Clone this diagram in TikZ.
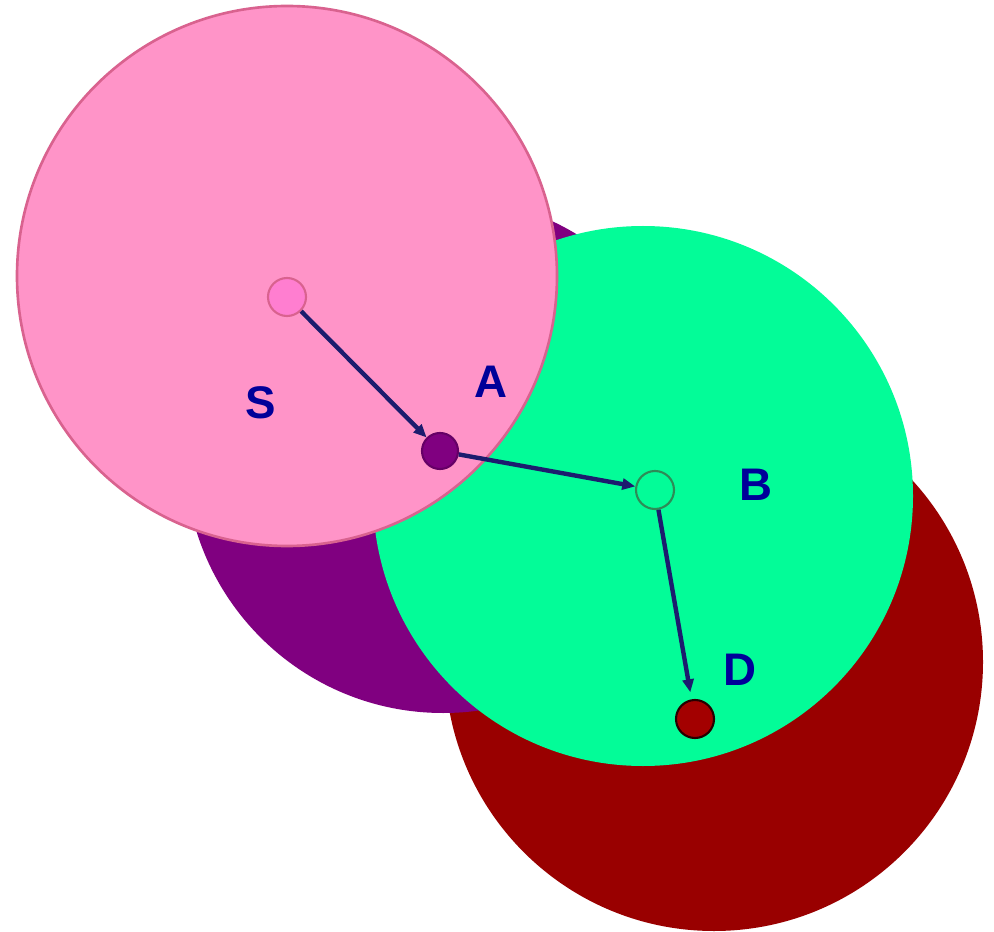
\documentclass[tikz,border=0pt]{standalone}
\usepackage{fontspec}
\setsansfont{Liberation Sans}
\usetikzlibrary{positioning, arrows.meta}
\definecolor{rose}{HTML}{FF94C8}
\definecolor{roseline}{HTML}{D9628F}
\definecolor{plum}{HTML}{800080}
\definecolor{mint}{HTML}{03FC98}
\definecolor{mintline}{HTML}{2E8B57}
\definecolor{wine}{HTML}{990000}
\definecolor{navy}{HTML}{1C1C6E}
\definecolor{labelblue}{HTML}{000099}

\begin{document}
\begin{tikzpicture}[x=0.02cm, y=-0.02cm, font=\sffamily,
  hop/.style={circle, inner sep=0pt, minimum size=0.76cm, line width=1.2pt},
  tag/.style={text=labelblue, font=\fontsize{26}{30}\selectfont\sffamily\bfseries},
  arrow/.style={-{Triangle[length=2.6mm, width=2.2mm]}, line width=2.5pt, navy}
]
  \useasboundingbox (0,0) rectangle (994,932);

  % transmission ranges
  \fill[wine] (714,662) circle[radius=269];
  \fill[plum] (443,455) circle[radius=258];
  \fill[mint] (643,496) circle[radius=270];
  \filldraw[fill=rose, draw=roseline, line width=1.5pt] (287,276) circle[radius=270];

  % hops
  \node[hop, fill=rose!85!magenta, draw=roseline] (s) at (287,297) {};
  \node[hop, fill=plum, draw=plum!80!black, minimum size=0.72cm] (a) at (440,451) {};
  \node[hop, fill=mint, draw=mintline] (b) at (655,490) {};
  \node[hop, fill=wine!90!red, draw=black!75!wine] (d) at (695,719) {};

  \node[tag] (ls) at (261,403) {S};
  \node[tag] (la) at (491,382) {A};
  \node[tag] (lb) at (756,485) {B};
  \node[tag] (ld) at (740,670) {D};

  \draw[arrow] (s) -- (a);
  \draw[arrow] (a) -- (b);
  \draw[arrow, shorten >=4pt] (b) -- (d);
\end{tikzpicture}
\end{document}
